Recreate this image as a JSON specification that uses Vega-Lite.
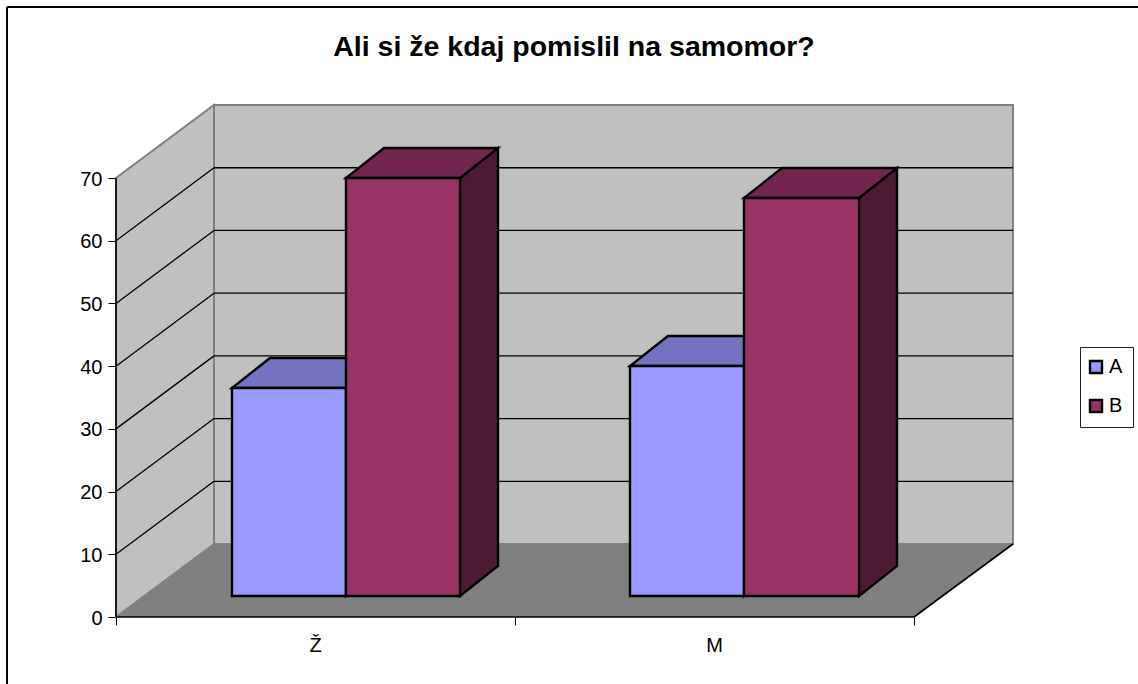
{
"$schema":"https://vega.github.io/schema/vega-lite/v6.json",
"width":1138,"height":684,"padding":0,"autosize":{"type":"none"},"background":"white",
"title":{"text":"Ali si že kdaj pomislil na samomor?","font":"Liberation Sans","fontSize":28.5,"fontWeight":"bold","color":"#000","anchor":"middle","frame":"group","offset":-61,"dx":5},
"config":{"view":{"stroke":null},"font":"Liberation Sans"},
"datasets":{
"frame":[{"x":-0.2732,"x2":2.5614,"y":97.27,"y2":97.27},{"x":-0.2732,"x2":-0.2732,"y":97.27,"y2":-10.684}],
"leftWall":[{"x":0,"y":0,"y2":70},{"x":0.2456,"y":11.64,"y2":81.64}],
"backWall":[{"x":0.2456,"x2":2.248,"y":81.64,"y2":11.64}],
"floor":[{"y":0,"x":0,"x2":2},{"y":11.64,"x":0.2456,"x2":2.248}],
"grid":[
{"x":0,"x2":0.2456,"y":10,"y2":21.64},{"x":0,"x2":0.2456,"y":20,"y2":31.64},{"x":0,"x2":0.2456,"y":30,"y2":41.64},{"x":0,"x2":0.2456,"y":40,"y2":51.64},{"x":0,"x2":0.2456,"y":50,"y2":61.64},{"x":0,"x2":0.2456,"y":60,"y2":71.64},
{"x":0.2456,"x2":2.248,"y":21.64,"y2":21.64},{"x":0.2456,"x2":2.248,"y":31.64,"y2":31.64},{"x":0.2456,"x2":2.248,"y":41.64,"y2":41.64},{"x":0.2456,"x2":2.248,"y":51.64,"y2":51.64},{"x":0.2456,"x2":2.248,"y":61.64,"y2":61.64},{"x":0.2456,"x2":2.248,"y":71.64,"y2":71.64}],
"edges":[{"x":0,"x2":2,"y":0,"y2":0},{"x":2,"x2":2.248,"y":0,"y2":11.64},{"x":0,"x2":0,"y":0,"y2":70}],
"sides":[
{"bar":"Ž A","face":"A side","x":0.5764,"y":36.52,"y2":3.35},{"bar":"Ž A","face":"A side","x":0.6716,"y":41.30,"y2":8.13},
{"bar":"Ž B","face":"B side","x":0.8622,"y":70,"y2":3.35},{"bar":"Ž B","face":"B side","x":0.9574,"y":74.78,"y2":8.13},
{"bar":"M A","face":"A side","x":1.5739,"y":40.03,"y2":3.35},{"bar":"M A","face":"A side","x":1.6691,"y":44.81,"y2":8.13},
{"bar":"M B","face":"B side","x":1.8622,"y":66.82,"y2":3.35},{"bar":"M B","face":"B side","x":1.9574,"y":71.60,"y2":8.13}],
"tops":[
{"bar":"Ž A","face":"A top","y":36.52,"x":0.2907,"x2":0.5764},{"bar":"Ž A","face":"A top","y":41.30,"x":0.3859,"x2":0.6716},
{"bar":"Ž B","face":"B top","y":70,"x":0.5764,"x2":0.8622},{"bar":"Ž B","face":"B top","y":74.78,"x":0.6716,"x2":0.9574},
{"bar":"M A","face":"A top","y":40.03,"x":1.2882,"x2":1.5739},{"bar":"M A","face":"A top","y":44.81,"x":1.3834,"x2":1.6691},
{"bar":"M B","face":"B top","y":66.82,"x":1.5739,"x2":1.8622},{"bar":"M B","face":"B top","y":71.60,"x":1.6691,"x2":1.9574}],
"fronts":[
{"cat":"Ž","face":"A","x":0.2907,"x2":0.5764,"y":36.52,"y2":3.35},
{"cat":"Ž","face":"B","x":0.5764,"x2":0.8622,"y":70,"y2":3.35},
{"cat":"M","face":"A","x":1.2882,"x2":1.5739,"y":40.03,"y2":3.35},
{"cat":"M","face":"B","x":1.5739,"x2":1.8622,"y":66.82,"y2":3.35}],
"cats":[{"cat":"Ž","x":0.5,"y":-4.6},{"cat":"M","x":1.5,"y":-4.6}]
},
"encoding":{
"x":{"field":"x","type":"quantitative","stack":null,"scale":{"domain":[-0.29073,2.5614],"nice":false,"zero":false},
 "axis":{"orient":"bottom","offset":-67,"values":[0,1,2],"labels":false,"title":null,"grid":false,"domain":false,"tickColor":"#000","tickSize":8,"tickWidth":1}},
"y":{"field":"y","type":"quantitative","stack":null,"scale":{"domain":[-10.684,98.389],"nice":false,"zero":false},
 "axis":{"orient":"left","offset":-116,"values":[0,10,20,30,40,50,60,70],"title":null,"grid":false,"domain":false,"tickColor":"#000","tickSize":8,"tickWidth":1,"labelFontSize":20,"labelColor":"#000","labelPadding":6,"labelOffset":1,"labelFont":"Liberation Sans"}}
},
"layer":[
{"data":{"name":"frame"},"mark":{"type":"rule","color":"#000","strokeWidth":2},"encoding":{"x2":{"field":"x2"},"y2":{"field":"y2"}}},
{"data":{"name":"backWall"},"mark":{"type":"rect","fill":"#C0C0C0","stroke":"#808080","strokeWidth":2},"encoding":{"x2":{"field":"x2"},"y2":{"field":"y2"}}},
{"data":{"name":"leftWall"},"mark":{"type":"area","orient":"vertical","fill":"#C0C0C0","stroke":"#808080","strokeWidth":2},"encoding":{"y2":{"field":"y2"}}},
{"data":{"name":"floor"},"mark":{"type":"area","orient":"horizontal","fill":"#808080"},"encoding":{"x2":{"field":"x2"}}},
{"data":{"name":"grid"},"mark":{"type":"rule","color":"#000","strokeWidth":1.3},"encoding":{"x2":{"field":"x2"},"y2":{"field":"y2"}}},
{"data":{"name":"edges"},"mark":{"type":"rule","color":"#000","strokeWidth":1.6},"encoding":{"x2":{"field":"x2"},"y2":{"field":"y2"}}},
{"data":{"name":"sides"},"mark":{"type":"area","orient":"vertical","stroke":"#000","strokeWidth":2.4},"encoding":{"y2":{"field":"y2"},"detail":{"field":"bar"},
 "color":{"field":"face","type":"nominal"}}},
{"data":{"name":"tops"},"mark":{"type":"area","orient":"horizontal","stroke":"#000","strokeWidth":2.4},"encoding":{"x2":{"field":"x2"},"detail":{"field":"bar"},
 "color":{"field":"face","type":"nominal"}}},
{"data":{"name":"fronts"},"mark":{"type":"rect","stroke":"#000","strokeWidth":2.4},"encoding":{"x2":{"field":"x2"},"y2":{"field":"y2"},
 "color":{"field":"face","type":"nominal","scale":{"domain":["A","B","A top","B top","A side","B side"],"range":["#9999FF","#993366","#7373BF","#73264D","#4D4D80","#4D1A33"]},
 "legend":{"values":["A","B"],"title":null,"orient":"none","legendX":1080,"legendY":347,"padding":10,"strokeColor":"#222","fillColor":"#fff","symbolType":"square","symbolSize":144,"symbolStrokeColor":"#000","symbolStrokeWidth":2.4,"symbolOpacity":1,"symbolOffset":-4,"labelFontSize":20,"labelColor":"#000","labelFont":"Liberation Sans","rowPadding":17,"labelOffset":3}}}},
{"data":{"name":"cats"},"mark":{"type":"text","fontSize":20,"font":"Liberation Sans","color":"#000","align":"center","baseline":"middle"},"encoding":{"text":{"field":"cat"}}}
]
}
